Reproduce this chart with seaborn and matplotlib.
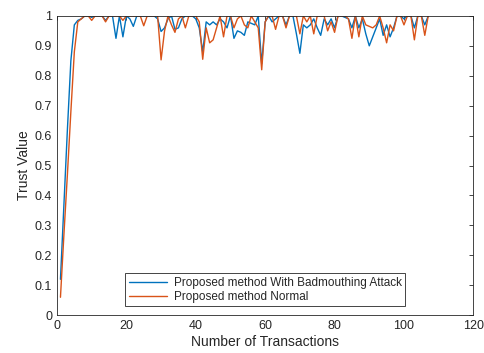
import numpy as np
import pandas as pd
import matplotlib
matplotlib.use("Agg")
import matplotlib.pyplot as plt
import seaborn as sns

transactions = list(range(1, 108))

trust_attack = [
    0.12, 0.37, 0.62, 0.85, 0.97, 0.985, 0.99, 1.0, 1.0, 0.995,
    1.0, 1.0, 1.0, 0.985, 1.0, 1.0, 0.925, 1.0, 0.93, 1.0,
    0.99, 0.965, 1.0, 1.0, 1.0, 1.0, 1.0, 1.0, 0.99, 0.948,
    0.96, 0.99, 1.0, 0.955, 0.96, 0.99, 1.0, 1.0, 1.0, 0.99,
    0.96, 0.88, 0.98, 0.97, 0.98, 0.97, 0.99, 0.98, 0.96, 1.0,
    0.925, 0.95, 0.945, 0.935, 0.98, 0.975, 0.97, 1.0, 0.84, 0.98,
    1.0, 0.98, 0.99, 1.0, 1.0, 0.97, 1.0, 1.0, 0.94, 0.875,
    0.97, 0.96, 0.97, 0.99, 0.96, 0.935, 0.99, 0.97, 0.99, 0.96,
    1.0, 1.0, 0.995, 0.99, 0.96, 1.0, 0.96, 0.99, 0.94, 0.9,
    0.93, 0.96, 0.99, 0.935, 0.97, 0.93, 0.96, 1.0, 1.0, 0.99,
    1.0, 1.0, 0.96, 1.0, 1.0, 0.97, 1.0,
]

trust_normal = [
    0.06, 0.27, 0.47, 0.68, 0.88, 0.98, 0.99, 1.0, 1.0, 0.985,
    1.0, 1.0, 1.0, 0.98, 1.0, 1.0, 1.0, 1.0, 0.985, 1.0,
    1.0, 1.0, 1.0, 1.0, 0.967, 1.0, 1.0, 1.0, 1.0, 0.853,
    0.95, 1.0, 0.97, 0.945, 0.99, 1.0, 0.96, 1.0, 1.0, 1.0,
    0.98, 0.855, 0.96, 0.91, 0.92, 0.96, 1.0, 0.93, 1.0, 1.0,
    0.96, 0.99, 1.0, 0.97, 0.96, 1.0, 0.98, 0.96, 0.82, 0.98,
    1.0, 1.0, 0.955, 1.0, 1.0, 0.96, 1.0, 1.0, 1.0, 0.94,
    1.0, 0.98, 1.0, 0.94, 1.0, 1.0, 1.0, 0.95, 0.98, 0.945,
    1.0, 1.0, 1.0, 0.99, 0.925, 1.0, 0.93, 1.0, 0.97, 0.965,
    0.96, 0.97, 1.0, 0.96, 0.91, 0.97, 0.95, 1.0, 1.0, 0.97,
    1.0, 1.0, 0.92, 1.0, 1.0, 0.935, 1.0,
]

series_names = ["Proposed method With Badmouthing Attack", "Proposed method Normal"]
colors = ["#0072BD", "#D95319"]

df = pd.concat([
    pd.DataFrame({"x": transactions, "y": trust_attack, "series": series_names[0]}),
    pd.DataFrame({"x": transactions, "y": trust_normal, "series": series_names[1]}),
])

sns.set_style("white")
plt.rcParams["font.family"] = ["Liberation Sans", "DejaVu Sans"]

fig = plt.figure(figsize=(4.85, 3.53), dpi=100)
ax = fig.add_axes([0.1175, 0.107, 0.8585, 0.848])

sns.lineplot(data=df, x="x", y="y", hue="series", palette=colors,
             linewidth=1.0, ax=ax, legend=True)

ax.set_xlim(0, 120)
ax.set_ylim(0, 1)
ax.set_xticks(np.arange(0, 121, 20))
ax.set_yticks(np.round(np.arange(0, 1.01, 0.1), 1))
ax.set_yticklabels(["0", "0.1", "0.2", "0.3", "0.4", "0.5", "0.6", "0.7", "0.8", "0.9", "1"])
ax.tick_params(direction="in", length=3, width=0.6, colors="#262626",
               labelsize=9, top=True, right=True, labelcolor="#262626")
for s in ax.spines.values():
    s.set_color("#262626")
    s.set_linewidth(0.6)
    s.set_visible(True)

ax.set_xlabel("Number of Transactions", fontsize=10, color="#262626", labelpad=2)
ax.set_ylabel("Trust Value", fontsize=10, color="#262626", labelpad=3)

handles, labels = ax.get_legend_handles_labels()
leg = ax.legend(handles, labels, loc="lower center", bbox_to_anchor=(0.5, 0.03),
                fontsize=8.5, frameon=True, fancybox=False, framealpha=1,
                edgecolor="#262626", handlelength=3.2, handletextpad=0.6,
                borderpad=0.3, labelspacing=0.15, borderaxespad=0)
leg.get_frame().set_linewidth(0.6)

fig.savefig("out.png", dpi=100)
